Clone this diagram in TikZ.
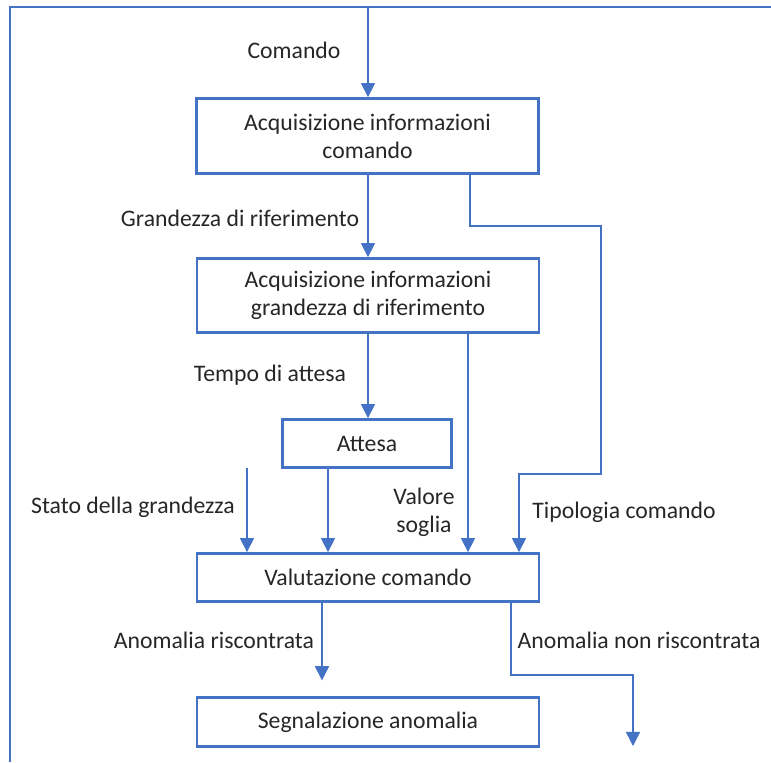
\documentclass[tikz,border=0pt]{standalone}
\usepackage{fontspec}
\setmainfont{Carlito}
\usetikzlibrary{arrows.meta}
\definecolor{flowblue}{HTML}{4472C4}
\definecolor{txtgray}{HTML}{262626}
\begin{document}
\begin{tikzpicture}[x=0.02cm,y=-0.02cm,
    every node/.style={font=\fontsize{13.5}{16}\selectfont,text=txtgray},
    box/.style={draw=flowblue,line width=1.6pt,minimum width=6.84cm,align=center,inner sep=0pt},
    arr/.style={draw=flowblue,line width=0.8pt,-{Triangle[width=8pt,length=8pt]}},
    frame/.style={draw=flowblue,line width=0.8pt}]
  \useasboundingbox (0,0) rectangle (771,762);
  \draw[frame] (10,762) -- (10,7) -- (771,7);
  % boxes
  \node[box,minimum height=1.5cm] (cmd) at (367.5,136) {Acquisizione informazioni\\comando};
  \node[box,minimum height=1.48cm] (grd) at (368,295.5) {Acquisizione informazioni\\grandezza di riferimento};
  \node[box,minimum width=3.38cm,minimum height=0.96cm] (att) at (367,443.5) {Attesa};
  \node[box,minimum height=0.96cm] (val) at (368,577.5) {Valutazione comando};
  \node[box,minimum height=0.98cm] (seg) at (368,722) {Segnalazione anomalia};
  % free ends and bends
  \coordinate (in) at (368,7);
  \coordinate (tx) at (470,226);
  \coordinate (tr) at (601,226);
  \coordinate (tl) at (519,474);
  \coordinate (vs) at (468,0);
  \coordinate (wt) at (328,0);
  \coordinate (st) at (247,468);
  \coordinate (ar) at (322,0);
  \coordinate (nr) at (511,675);
  \coordinate (ok) at (633,675);
  \coordinate (out) at (633,746);
  % connectors
  \draw[arr] (in) -- (cmd.north -| in);
  \draw[arr] (cmd.south -| in) -- (grd.north -| in);
  \draw[arr] (cmd.south -| tx) |- (tr) |- (tl) -- (val.north -| tl);
  \draw[arr] (grd.south -| in) -- (att.north -| in);
  \draw[arr] (grd.south -| vs) -- (val.north -| vs);
  \draw[arr] (att.south -| wt) -- (val.north -| wt);
  \draw[arr] (st) -- (val.north -| st);
  \draw[arr,shorten >=9pt] (val.south -| ar) -- (seg.north -| ar);
  \draw[arr] (val.south -| nr) |- (ok) -- (out);
  % labels
  \node (lcmd) at (294,50) {Comando};
  \node (lgrd) at (240,218) {Grandezza di riferimento};
  \node (ltmp) at (270,375) {Tempo di attesa};
  \node (lsta) at (133,507) {Stato della grandezza};
  \node[align=center] (lval) at (424,512) {Valore\\soglia};
  \node (ltip) at (624,512) {Tipologia comando};
  \node (lan) at (214,640) {Anomalia riscontrata};
  \node (lnon) at (639,640) {Anomalia non riscontrata};
\end{tikzpicture}
\end{document}
